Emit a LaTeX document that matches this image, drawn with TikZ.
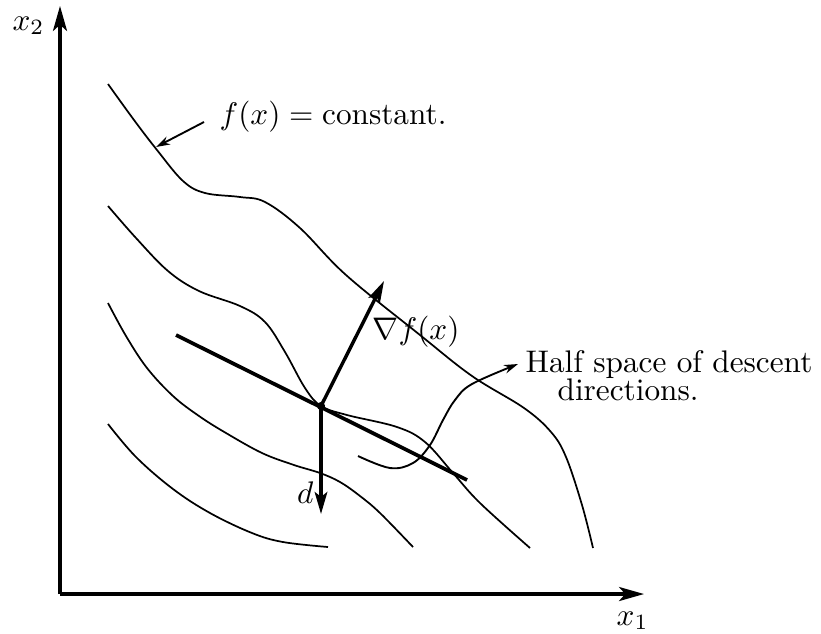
\documentclass[tikz,border=0pt]{standalone}
\usetikzlibrary{arrows.meta}
\begin{document}
\begin{tikzpicture}[x=0.32pt,y=-0.32pt,
  axis/.style={line width=1pt,-{Stealth[length=8pt,width=4.5pt,inset=2pt]}},
  level/.style={line width=0.55pt},
  tangent/.style={line width=1.2pt},
  vec/.style={line width=1.1pt,-{Stealth[length=7pt,width=4pt,inset=1.5pt]}},
  pointer/.style={line width=0.6pt,-{Stealth[length=4.5pt,width=2.8pt]}},
  lbl/.style={inner sep=0pt}]
\useasboundingbox (0,0) rectangle (821,633);
% axes
\coordinate (O) at (60,594);
\coordinate (ytip) at (60,6);
\coordinate (xtip) at (644,594);
\draw[axis] (O) -- (ytip);
\draw[axis] (O) -- (xtip);
\node[lbl,anchor=base west] (x2) at (12,30) {$x_2$};
\node[lbl,anchor=base west] (x1) at (616,625) {$x_1$};
% level curves
\draw[level] plot[smooth,tension=0.6] coordinates {(108,84) (134,120) (157,150) (183,181) (205,193) (240,197) (265,202) (300,228) (346,275) (420,335) (472,376) (524,408) (551,432) (566,457) (582,505) (593,548)};
\draw[level] plot[smooth,tension=0.6] coordinates {(108,206) (136,238) (168,271) (199,291) (240,306) (265,322) (285,352) (305,388) (321,406) (347,415) (397,427) (425,442) (453,473) (480,503) (530,548)};
\draw[level] plot[smooth,tension=0.6] coordinates {(108,303) (126,336) (147,368) (173,396) (199,416) (226,433) (262,453) (294,465) (320,473) (340,482) (360,496) (380,513) (413,547)};
\draw[level] plot[smooth,tension=0.6] coordinates {(108,424) (136,457) (173,489) (210,513) (252,533) (283,542) (328,547)};
% point, tangent, vectors
\coordinate (P) at (321,406);
\coordinate (T1) at (176,335);
\coordinate (T2) at (467,480);
\coordinate (G) at (384,281);
\coordinate (D) at (321,514);
\draw[tangent] (T1) -- (T2);
\draw[vec] (P) -- (G);
\draw[vec] (P) -- (D);
\fill (P) circle[radius=1.3pt];
\node[lbl,anchor=base west] (grad) at (372,339) {$\nabla f(x)$};
\node[lbl,anchor=base east] (dl) at (314,503) {$d$};
% f(x) = constant label
\node[lbl,anchor=base west] (fc) at (219,124) {$f(x) = \mbox{constant.}$};
\coordinate (fcA) at (204,122);
\coordinate (fcB) at (156,147);
\draw[pointer] (fcA) -- (fcB);
% half space label
\node[lbl,anchor=base west] (hs1) at (525,372) {Half space of descent};
\node[lbl,anchor=base west] (hs2) at (557,400) {directions.};
\coordinate (hsTip) at (518,364);
\draw[level,pointer] plot[smooth,tension=0.6] coordinates {(358,456) (390,468) (413,463) (430,445) (443,420) (455,400) (472,384) (hsTip)};
\end{tikzpicture}
\end{document}
